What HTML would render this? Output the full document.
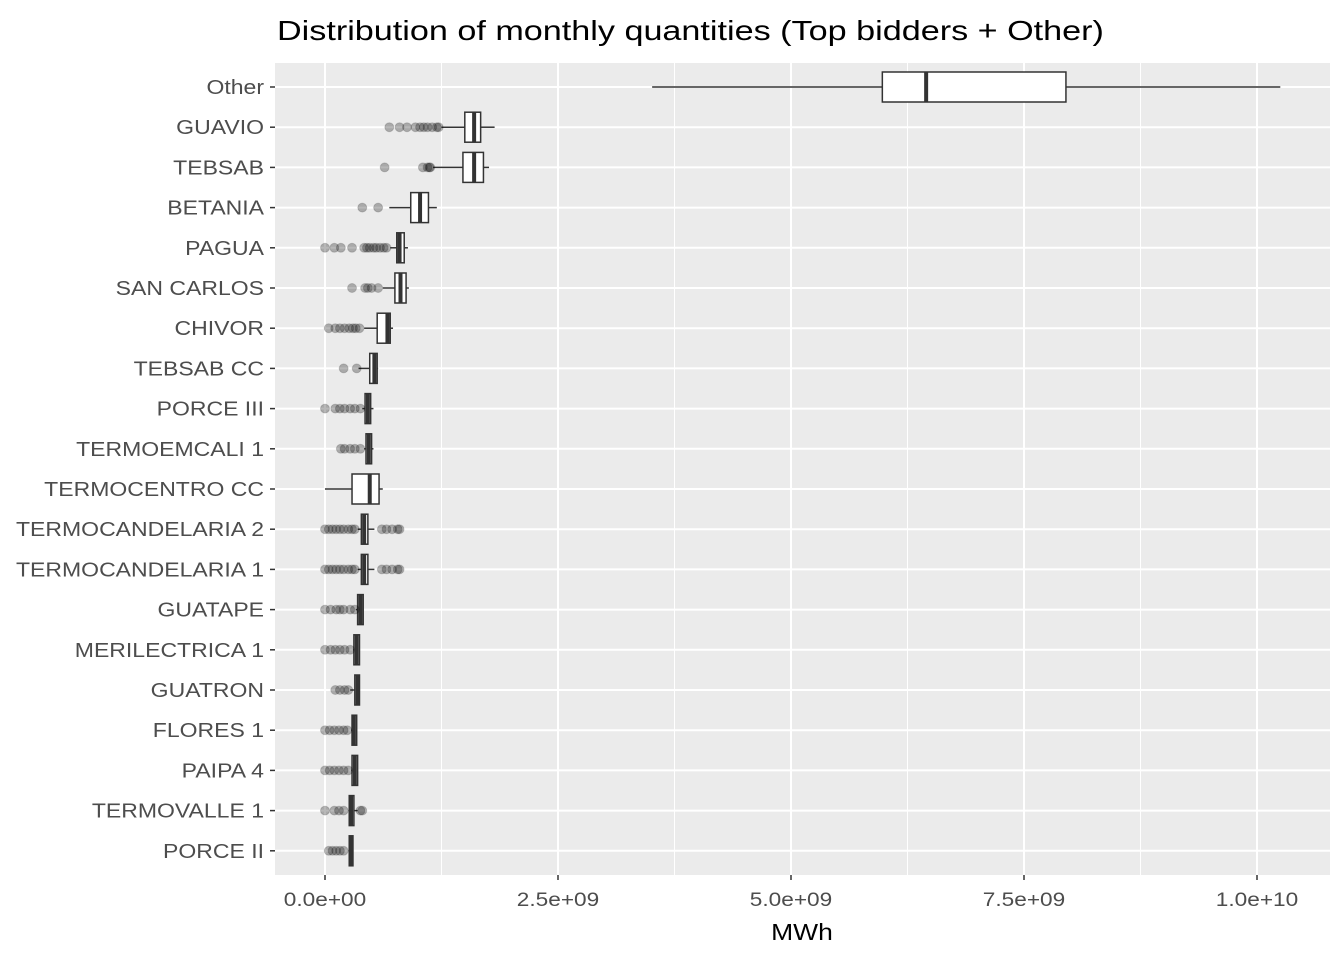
<!DOCTYPE html>
<html><head><meta charset="utf-8"><style>
body{margin:0;background:#fff;}
svg{display:block;font-family:"Liberation Sans",Arial,sans-serif;}
</style></head><body>
<svg id="chart" width="1344" height="960">
<text class="wide" data-f="1.22" x="277" y="40" font-size="28" fill="#000">Distribution of monthly quantities (Top bidders + Other)</text>
<rect x="275" y="63" width="1055" height="812" fill="#ebebeb"/>
<g id="grid"></g><g id="marks"></g><g id="axes"></g>
<text class="wide" data-f="1.15" x="802" y="940" font-size="23" text-anchor="middle" fill="#000">MWh</text>
</svg>
<script>
const categories=["Other","GUAVIO","TEBSAB","BETANIA","PAGUA","SAN CARLOS","CHIVOR","TEBSAB CC","PORCE III","TERMOEMCALI 1","TERMOCENTRO CC","TERMOCANDELARIA 2","TERMOCANDELARIA 1","GUATAPE","MERILECTRICA 1","GUATRON","FLORES 1","PAIPA 4","TERMOVALLE 1","PORCE II"];
// values in units of 1e9 MWh
const whiskerLow=[3.51,1.25,1.16,0.69,0.70,0.62,0.42,0.36,0.40,0.42,0.0,0.35,0.35,0.33,0.30,0.27,0.28,0.28,0.25,0.25];
const q1=[5.98,1.50,1.48,0.92,0.77,0.75,0.56,0.48,0.43,0.44,0.29,0.39,0.39,0.35,0.31,0.32,0.29,0.29,0.26,0.26];
const median=[6.45,1.60,1.60,1.02,0.80,0.81,0.67,0.53,0.46,0.47,0.48,0.42,0.42,0.38,0.34,0.35,0.31,0.32,0.28,0.28];
const q3=[7.95,1.67,1.70,1.11,0.85,0.87,0.70,0.56,0.49,0.50,0.58,0.46,0.46,0.41,0.37,0.37,0.34,0.35,0.31,0.30];
const whiskerHigh=[10.25,1.82,1.76,1.20,0.89,0.90,0.73,0.57,0.52,0.52,0.62,0.53,0.53,0.41,0.37,0.37,0.34,0.35,0.35,0.30];
const outliers=[[],[0.69,0.80,0.88,0.97,1.02,1.06,1.10,1.15,1.20,1.22],[0.64,1.05,1.10,1.12,1.13],[0.40,0.57],
[0.0,0.10,0.17,0.29,0.42,0.45,0.48,0.52,0.55,0.59,0.63,0.66],[0.29,0.43,0.46,0.50,0.57],[0.04,0.11,0.16,0.21,0.26,0.30,0.33,0.37],
[0.20,0.34],[0.0,0.11,0.16,0.21,0.27,0.32,0.38],[0.17,0.21,0.27,0.32,0.38],[],
[0,0.04,0.08,0.12,0.16,0.20,0.25,0.29,0.32,0.61,0.66,0.72,0.78,0.80],[0,0.04,0.08,0.12,0.16,0.20,0.25,0.29,0.32,0.61,0.66,0.72,0.78,0.80],
[0,0.06,0.12,0.16,0.20,0.27,0.32],[0,0.06,0.11,0.16,0.21,0.27],[0.11,0.16,0.21,0.25],[0,0.05,0.10,0.15,0.20,0.24],
[0,0.05,0.10,0.15,0.20,0.25],[0,0.10,0.15,0.20,0.38,0.40],[0.04,0.08,0.12,0.16,0.20]];
const xTicks=[0,2.5,5,7.5,10];
const xTickLabels=["0.0e+00","2.5e+09","5.0e+09","7.5e+09","1.0e+10"];
const NS="http://www.w3.org/2000/svg";
const X=v=>325+v*93.2;
const Y=i=>87+i*40.2;
function mk(t,a,p){const e=document.createElementNS(NS,t);for(const k in a)e.setAttribute(k,a[k]);p.appendChild(e);return e;}
const grid=document.getElementById('grid'),marks=document.getElementById('marks'),axes=document.getElementById('axes');
for(let i=0;i<xTicks.length-1;i++){const m=(xTicks[i]+xTicks[i+1])/2;
 const g=mk('line',{x1:X(m),x2:X(m),y1:63,y2:875,stroke:'#fff','stroke-width':1},grid);
 
 }
xTicks.forEach((t,i)=>{
 const g=mk('line',{x1:X(t),x2:X(t),y1:63,y2:875,stroke:'#fff','stroke-width':2},grid);
 
 
 const tk=mk('line',{x1:X(t),x2:X(t),y1:875,y2:880,stroke:'#333','stroke-width':1.5},axes);
 
 
 const l=mk('text',{x:X(t),y:906,'font-size':19,'text-anchor':'middle',fill:'#4d4d4d',class:'wide','data-f':1.19},axes);
 l.textContent=xTickLabels[i];
 
 });
categories.forEach((c,i)=>{const y=Y(i);
 const g=mk('line',{x1:275,x2:1330,y1:y,y2:y,stroke:'#fff','stroke-width':2},grid);
 
 
 const tk=mk('line',{x1:270,x2:275,y1:y,y2:y,stroke:'#333','stroke-width':1.5},axes);
 
 
 const l=mk('text',{x:264,y:y+7,'font-size':20,'text-anchor':'end',fill:'#4d4d4d',class:'wide','data-f':1.15},axes);
 l.textContent=c;
 
 
 const gr=mk('g',{},marks);
 
 
 mk('line',{x1:X(whiskerLow[i]),x2:X(q1[i]),y1:y,y2:y,stroke:'#333','stroke-width':1.5},gr);
 mk('line',{x1:X(q3[i]),x2:X(whiskerHigh[i]),y1:y,y2:y,stroke:'#333','stroke-width':1.5},gr);
 mk('rect',{x:X(q1[i]),y:y-15,width:Math.max(X(q3[i])-X(q1[i]),1),height:30,fill:'#fff',stroke:'#333','stroke-width':1.5},gr);
 mk('line',{x1:X(median[i]),x2:X(median[i]),y1:y-15,y2:y+15,stroke:'#333','stroke-width':4},gr);
 outliers[i].forEach(v=>{const p=mk('circle',{cx:X(v),cy:y,r:4.5,fill:'#000','fill-opacity':0.28,stroke:'#000','stroke-opacity':0.15},gr);
  
  });
});
document.querySelectorAll('text.wide').forEach(t=>{
 const f=parseFloat(t.getAttribute('data-f'));
 t.setAttribute('textLength',(t.getComputedTextLength()*f).toFixed(1));
 t.setAttribute('lengthAdjust','spacingAndGlyphs');
});
</script>
</body></html>
